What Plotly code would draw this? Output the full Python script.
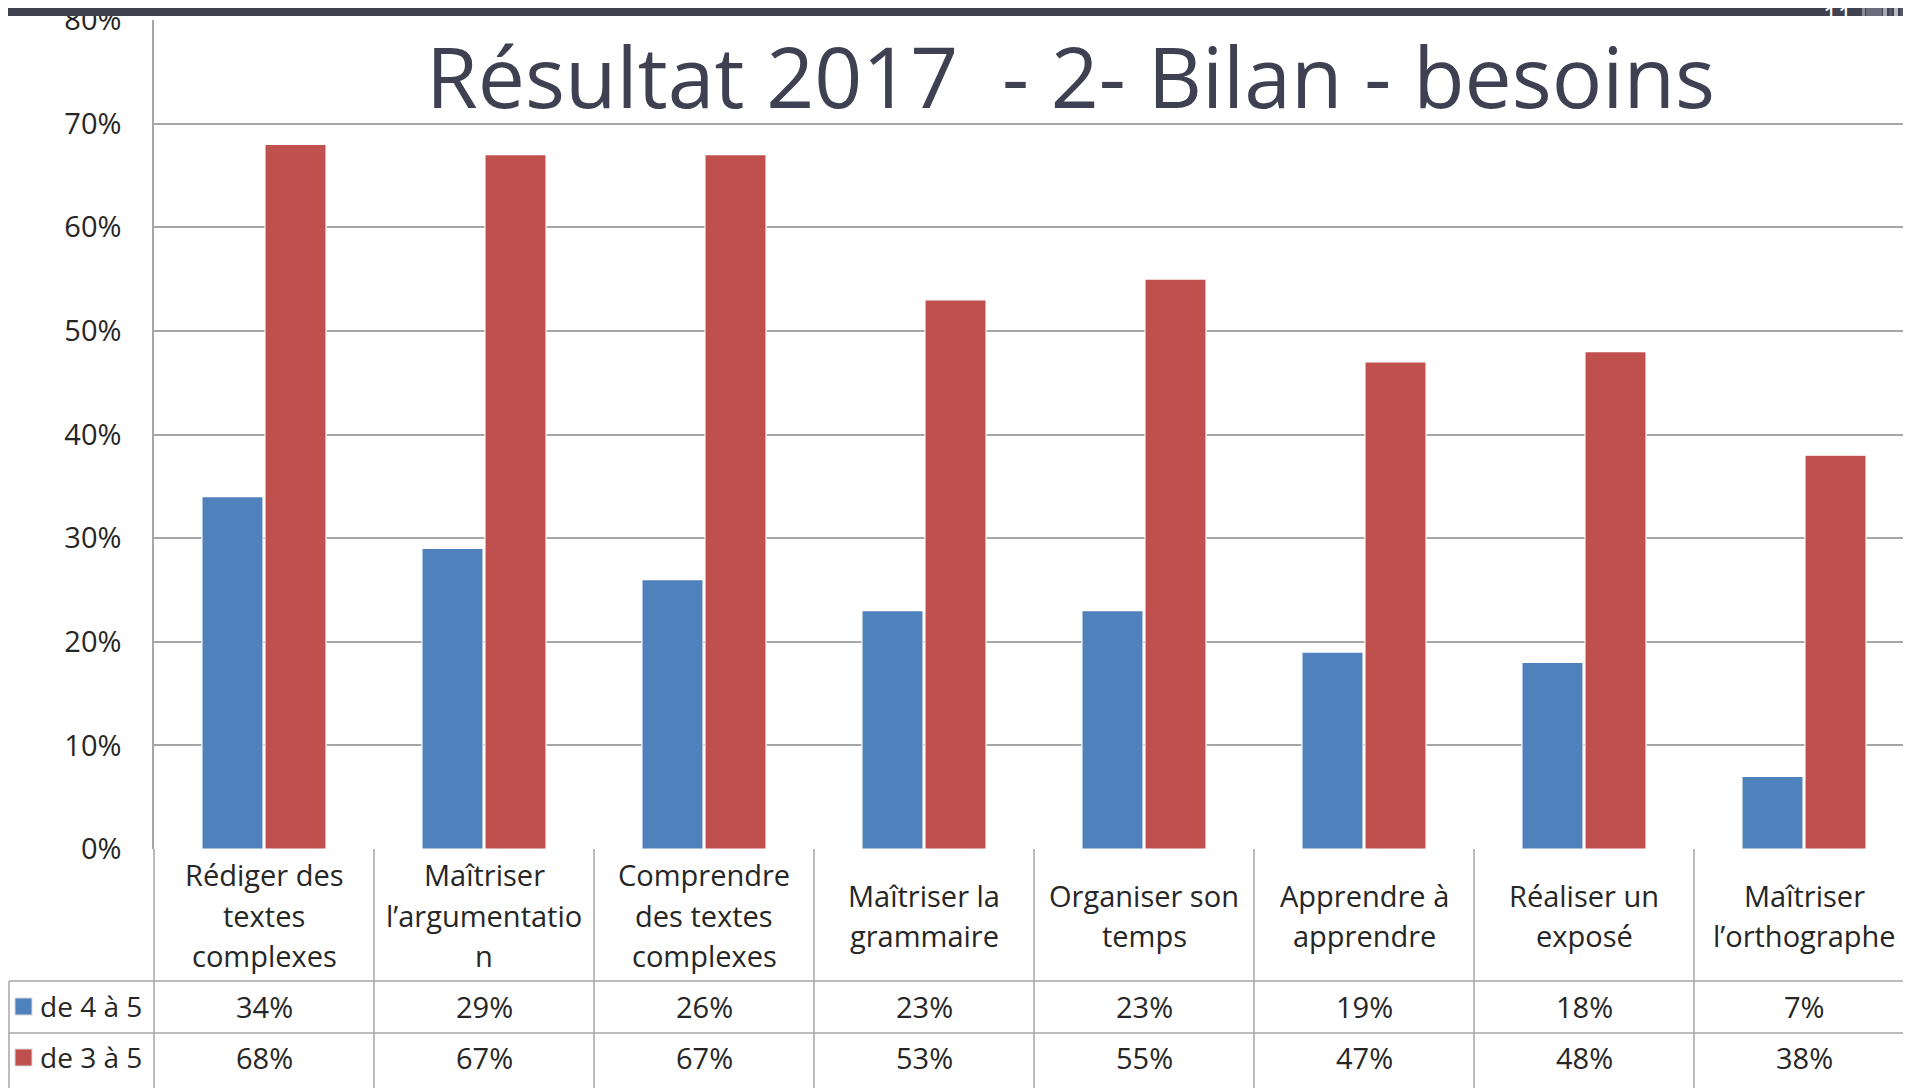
import plotly.graph_objects as go

# ---------------- data ----------------
categories = [
    "Rédiger des<br>textes<br>complexes",
    "Maîtriser<br>l’argumentatio<br>n",
    "Comprendre<br>des textes<br>complexes",
    "Maîtriser la<br>grammaire",
    "Organiser son<br>temps",
    "Apprendre à<br>apprendre",
    "Réaliser un<br>exposé",
    "Maîtriser<br>l’orthographe",
]
series_names = ["de 4 à 5", "de 3 à 5"]
values_4_5 = [34, 29, 26, 23, 23, 19, 18, 7]
values_3_5 = [68, 67, 67, 53, 55, 47, 48, 38]
tick_values = [0, 10, 20, 30, 40, 50, 60, 70, 80]
tick_labels = ["0%", "10%", "20%", "30%", "40%", "50%", "60%", "70%", "80%"]
title_text = "Résultat 2017  - 2- Bilan - besoins"
page_number = "11"

# ---------------- styling / layout ----------------
# page has an 8px body margin: work in screen coordinates, convert to figure coords
OFF = 8
SW, SH = 1911, 1088
W, H = SW - OFF, SH - OFF
S_LEFT, S_TOP, S_BOTTOM = 154, 20, 849     # plot area in screen coords
L, T = S_LEFT - OFF, S_TOP - OFF
B = H - (S_BOTTOM - OFF)
COL_W = 220
PH = S_BOTTOM - S_TOP
PW = W - L
BLUE = "#4F81BD"
RED = "#C0504D"
GRID = "#a6a6a6"
TXT = "#262626"
DARK = "#41424f"
FONT = "Open Sans"
FS = 29
colors = [BLUE, RED]
series = [values_4_5, values_3_5]


def py(Y):  # screen Y -> paper
    return (S_BOTTOM - Y) / PH


def px(X):  # screen X -> paper
    return (X - S_LEFT) / PW


n = len(categories)
xs = list(range(n))

fig = go.Figure()
for name, vals, col in zip(series_names, series, colors):
    fig.add_trace(go.Bar(
        x=xs, y=vals, name=name,
        marker=dict(color=col, line=dict(color="white", width=1.2)),
        hoverinfo="skip",
    ))

shapes = []
annotations = []

# top dark band and stripes
BAND_TOP, BAND_BOT = OFF, 16
shapes.append(dict(type="rect", xref="paper", yref="paper", x0=px(OFF), x1=px(SW + 5),
                   y0=py(BAND_BOT), y1=py(BAND_TOP), fillcolor=DARK, line_width=0, layer="above"))
stripes = [(1862, 1865, "#8a8b98"), (1866, 1882, "#6c6d7c"), (1883, 1887, "#a7a8b3"),
           (1889, 1892, "#55566a"), (1894, 1898, "#b9bac2"), (1900, 1903, "#55566a"),
           (1905, 1911, "#c9cad0")]
for x0, x1, c in stripes:
    shapes.append(dict(type="rect", xref="paper", yref="paper", x0=px(x0), x1=px(x1),
                       y0=py(BAND_BOT), y1=py(BAND_TOP), fillcolor=c, line_width=0, layer="above"))

# table lines
line_style = dict(color=GRID, width=1.5)
for Y in (981, 1033):
    shapes.append(dict(type="line", xref="paper", yref="paper", x0=px(OFF + 1), x1=px(SW + 5),
                       y0=py(Y), y1=py(Y), line=line_style, layer="above"))
for i in range(n + 1):
    X = S_LEFT + i * COL_W
    shapes.append(dict(type="line", xref="paper", yref="paper", x0=px(X), x1=px(X),
                       y0=py(S_BOTTOM), y1=py(SH + 5), line=line_style, layer="above"))
shapes.append(dict(type="line", xref="paper", yref="paper", x0=px(OFF + 1), x1=px(OFF + 1),
                   y0=py(981), y1=py(SH + 5), line=line_style, layer="above"))

# category labels (each line placed individually)
LINE_H = 40
for i, cat in enumerate(categories):
    lines = cat.split("<br>")
    center = 915
    start = center - (len(lines) - 1) * LINE_H / 2
    for k, ln in enumerate(lines):
        annotations.append(dict(x=i, xref="x", y=py(start + k * LINE_H), yref="paper",
                                text=ln, showarrow=False, xanchor="center", yanchor="middle",
                                font=dict(family=FONT, size=FS, color=TXT)))

# value rows + legend keys
row_y = [1006, 1057]
for r, (name, vals, col) in enumerate(zip(series_names, series, colors)):
    Y = row_y[r]
    for i, v in enumerate(vals):
        annotations.append(dict(x=i, xref="x", y=py(Y), yref="paper", text=f"{v}%",
                                showarrow=False, xanchor="center", yanchor="middle",
                                font=dict(family=FONT, size=FS, color=TXT)))
    shapes.append(dict(type="rect", xref="paper", yref="paper", x0=px(15), x1=px(32),
                       y0=py(Y + 9), y1=py(Y - 8), fillcolor=col,
                       line=dict(color="#d8d8d8", width=1), layer="above"))
    annotations.append(dict(x=px(38), xref="paper", y=py(Y), yref="paper", text=name,
                            showarrow=False, xanchor="left", yanchor="middle",
                            font=dict(family=FONT, size=FS - 1, color=TXT)))

# title
annotations.append(dict(x=px(1070), xref="paper", y=py(76), yref="paper", text=title_text,
                        showarrow=False, xanchor="center", yanchor="middle",
                        font=dict(family=FONT, size=84, color="#3f4152")))
# page number
annotations.append(dict(x=px(1838), xref="paper", y=py(14), yref="paper", text=page_number,
                        showarrow=False, xanchor="center", yanchor="middle",
                        font=dict(family=FONT, size=26, color="white")))

fig.update_layout(
    width=W, height=H,
    margin=dict(l=L, r=0, t=T, b=B, pad=0, autoexpand=False),
    paper_bgcolor="white", plot_bgcolor="white",
    barmode="group", bargap=0.427, bargroupgap=0.03,
    showlegend=False,
    shapes=shapes, annotations=annotations,
    xaxis=dict(range=[-0.5, -0.5 + PW / COL_W], showticklabels=False, showgrid=False,
               zeroline=False, showline=False, fixedrange=True, automargin=False),
    yaxis=dict(range=[0, 80], tickvals=tick_values, ticktext=tick_labels,
               showgrid=True, gridcolor=GRID, gridwidth=1.5, zeroline=False,
               showline=True, linecolor=GRID, linewidth=1.5,
               ticklabelstandoff=25, ticklabeloverflow="allow", automargin=False,
               tickfont=dict(family=FONT, size=FS, color=TXT), fixedrange=True),
)

fig.write_html("out.html")
